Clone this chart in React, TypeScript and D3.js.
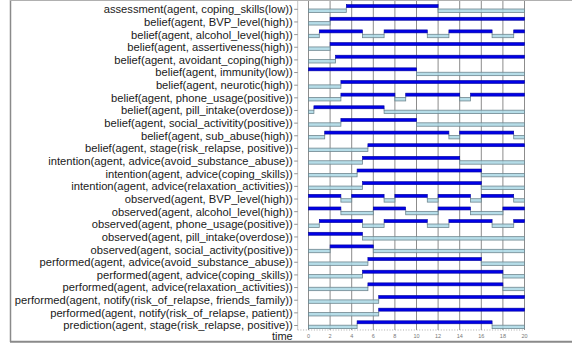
import * as d3 from "d3";

const labels = [
  "assessment(agent, coping_skills(low))",
  "belief(agent, BVP_level(high))",
  "belief(agent, alcohol_level(high))",
  "belief(agent, assertiveness(high))",
  "belief(agent, avoidant_coping(high))",
  "belief(agent, immunity(low))",
  "belief(agent, neurotic(high))",
  "belief(agent, phone_usage(positive))",
  "belief(agent, pill_intake(overdose))",
  "belief(agent, social_activitity(positive))",
  "belief(agent, sub_abuse(high))",
  "belief(agent, stage(risk_relapse, positive))",
  "intention(agent, advice(avoid_substance_abuse))",
  "intention(agent, advice(coping_skills))",
  "intention(agent, advice(relaxation_activities))",
  "observed(agent, BVP_level(high))",
  "observed(agent, alcohol_level(high))",
  "observed(agent, phone_usage(positive))",
  "observed(agent, pill_intake(overdose))",
  "observed(agent, social_activity(positive))",
  "performed(agent, advice(avoid_substance_abuse))",
  "performed(agent, advice(coping_skills))",
  "performed(agent, advice(relaxation_activities))",
  "performed(agent, notify(risk_of_relapse, friends_family))",
  "performed(agent, notify(risk_of_relapse, patient))",
  "prediction(agent, stage(risk_relapse, positive))",
];

// intervals where each atom holds (true)
const trueSpans: number[][][] = [
  [[3.5, 12]],
  [[2, 20]],
  [[1, 5], [7, 11], [13, 17], [19, 20]],
  [[2, 20]],
  [[2.5, 20]],
  [[0, 10]],
  [[3, 20]],
  [[3, 8], [9, 14], [15, 20]],
  [[0.5, 7]],
  [[3, 10]],
  [[1.5, 13], [14, 19]],
  [[5.5, 20]],
  [[5, 14]],
  [[4.5, 16]],
  [[5, 16]],
  [[0, 3], [4, 7], [8, 11], [12, 15], [16, 19]],
  [[0, 3], [6, 9], [12, 15], [18, 20]],
  [[1, 5], [7, 11], [13, 17], [19, 20]],
  [[0, 5]],
  [[2, 6]],
  [[5.5, 16]],
  [[5, 18]],
  [[5.5, 18]],
  [[6.5, 20]],
  [[6.5, 20]],
  [[4.5, 17]],
];

const timeDomain = [0, 20];
const timeTicks = [0, 2, 4, 6, 8, 10, 12, 14, 16, 18, 20];

// complement of the true spans over the time range
const falseSpans = (spans: number[][]) => {
  const out: number[][] = [];
  let t = timeDomain[0];
  spans.forEach(([s, e]) => {
    if (s > t) out.push([t, s]);
    t = e;
  });
  if (t < timeDomain[1]) out.push([t, timeDomain[1]]);
  return out;
};

export default function App() {
  const width = 572;
  const height = 345;
  const axisBottom = 330;

  const x = d3.scaleLinear([-1, 20], [297.7, 524.5]);
  const y = d3.scalePoint(labels, [9.3, 325.5]);

  return (
    <svg
      width={width}
      height={height}
      style={{ position: "absolute", left: 0, top: 0, background: "#fff" }}
      fontFamily="'Liberation Sans', Arial, sans-serif"
    >
      {/* frame */}
      <line x1={10.5} x2={10.5} y1={0} y2={342} stroke="#8a8a8a" strokeWidth={1.5} />
      <line x1={10} x2={572} y1={0.5} y2={0.5} stroke="#b0b0b0" strokeWidth={1} />
      <line x1={10} x2={572} y1={341.8} y2={341.8} stroke="#8a8a8a" strokeWidth={2} />

      {/* vertical grid */}
      {timeTicks.map((t) => (
        <line key={t} x1={x(t)} x2={x(t)} y1={1} y2={axisBottom} stroke="#8c8c8c" strokeWidth={1} />
      ))}

      {/* y axis */}
      <line x1={x(-1)} x2={x(-1)} y1={1} y2={axisBottom} stroke="#b5b5b5" strokeWidth={0.8} />
      {labels.map((l) => (
        <g key={l}>
          <line x1={x(-1) - 3.5} x2={x(-1)} y1={y(l)!} y2={y(l)!} stroke="#777" strokeWidth={0.8} />
          <text x={x(-1) - 5} y={y(l)!} dy="0.35em" textAnchor="end" fontSize={11.2} fill="#1a1a1a">
            {l}
          </text>
        </g>
      ))}

      {/* rows */}
      {labels.map((l, i) => {
        const c = y(l)!;
        const t = trueSpans[i];
        const f = falseSpans(t);
        const edges = t.flatMap(([s, e]) => [s, e]).filter((v) => v > timeDomain[0] && v < timeDomain[1]);
        return (
          <g key={l}>
            {f.map(([s, e], j) => (
              <rect
                key={"f" + j}
                x={x(s)}
                y={c - 0.3}
                width={x(e) - x(s)}
                height={3.4}
                fill="#a9d7e4"
                fillOpacity={0.85}
                stroke="#6f8790"
                strokeWidth={0.8}
              />
            ))}
            {edges.map((v, j) => (
              <line key={"c" + j} x1={x(v)} x2={x(v)} y1={c - 2} y2={c} stroke="#6f8790" strokeWidth={0.8} />
            ))}
            {t.map(([s, e], j) => (
              <rect
                key={"t" + j}
                x={x(s)}
                y={c - 4.7}
                width={x(e) - x(s)}
                height={3}
                fill="#0000e6"
                stroke="#00009a"
                strokeWidth={0.6}
              />
            ))}
          </g>
        );
      })}

      {/* x axis */}
      <line
        x1={x(-1)}
        x2={x(20)}
        y1={axisBottom}
        y2={axisBottom}
        stroke="#999"
        strokeWidth={0.8}
        strokeDasharray="1,1.7"
      />
      {timeTicks.map((t) => (
        <text key={t} x={x(t)} y={337.5} textAnchor="middle" fontSize={5.5} fill="#777">
          {t}
        </text>
      ))}
      <text x={x(-1) - 5} y={340.3} textAnchor="end" fontSize={11} fill="#1a1a1a">
        time
      </text>
    </svg>
  );
}
